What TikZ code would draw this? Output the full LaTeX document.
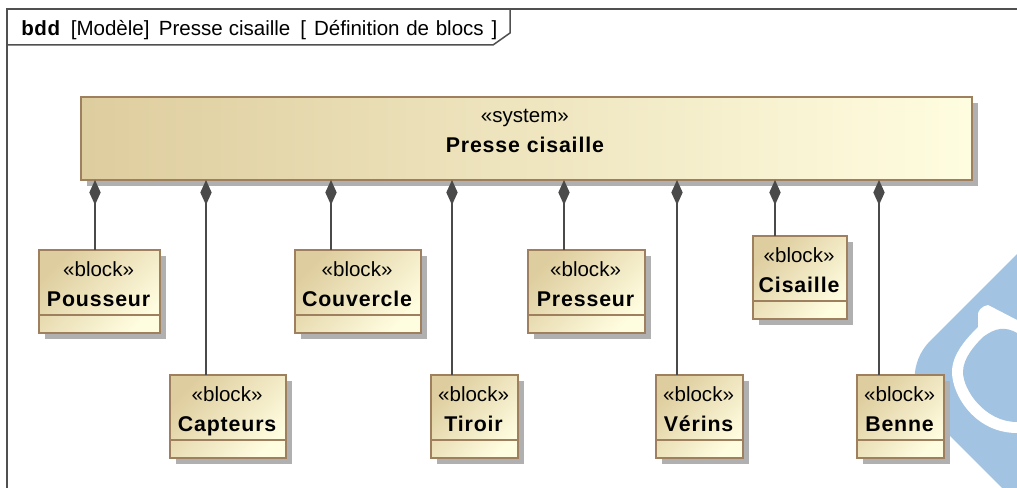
\documentclass[tikz,border=0pt]{standalone}
\usepackage{fontspec}
\setmainfont{Liberation Sans}
\newfontfamily\spacedbold[LetterSpace=4]{Liberation Sans Bold}
\newfontfamily\titlebold[LetterSpace=3]{Liberation Sans Bold}
\usetikzlibrary{shadows,arrows.meta}
\definecolor{edgebrown}{HTML}{9E7F5E}
\definecolor{shadowgrey}{HTML}{B0B0B0}
\definecolor{connector}{HTML}{4A4A4A}
\definecolor{gradA}{HTML}{DECD9E}
\definecolor{gradB}{HTML}{FFFDE0}
\definecolor{markblue}{HTML}{A2C4E2}
\definecolor{framegrey}{HTML}{505050}
\tikzset{
  x=0.75pt,y=-0.75pt,
  boxbase/.style={draw=edgebrown,line width=1.5*0.75pt,inner sep=0pt,outer sep=0pt,
    drop shadow={shadow xshift=4.5pt,shadow yshift=-4.5pt,fill=shadowgrey,opacity=1}},
  blockbox/.style={boxbase,top color=gradA,bottom color=gradB,shading angle=45},
  sysbox/.style={boxbase,left color=gradA,right color=gradB},
  blocktext/.style={anchor=north,align=center,inner sep=0pt,font=\fontsize{15.4pt}{22.5pt}\selectfont},
  comp/.style={draw=connector,line width=1.6*0.75pt,{Diamond[length=18.75pt,width=8.5pt,fill=connector]}-},
  compartline/.style={draw=edgebrown,line width=1.5*0.75pt},
  framepath/.style={draw=framegrey,line width=1.5*0.75pt},
  titletext/.style={anchor=base west,inner sep=0pt,font=\fontsize{15.4pt}{18pt}\selectfont},
}
\newcommand{\boldname}[1]{{\fontsize{16pt}{22.5pt}\selectfont\spacedbold #1}}
\newcommand{\blockat}[6]{% name x1 y1 x2 y2 label
  \path let \n1={(#4-#2)*0.75},\n2={(#5-#3)*0.75} in
    node[blockbox,anchor=north west,minimum width=\n1 pt,minimum height=\n2 pt] (#1) at (#2,#3) {};
  \draw[compartline] ([yshift=13.5pt]#1.south west) -- ([yshift=13.5pt]#1.south east);
  \node[blocktext] (#1text) at ([xshift=-0.7pt,yshift=-8.5pt]#1.north) {«block»\\\boldname{#6}};
}
\usetikzlibrary{calc}
\begin{document}
\begin{tikzpicture}
\useasboundingbox (0,0) rectangle (1017,488);
\begin{scope}
\clip (0,0) rectangle (1017,488);
% watermark
\fill[markblue,rounded corners=40pt] (1072,199) -- (892.5,378.5) -- (1130,616) -- (1300,400) -- cycle;
\fill[white] (988,305) .. controls (982,306) and (977,311) .. (978,316)
  -- (978,327) .. controls (965,340) and (952,355) .. (952,372)
  .. controls (952,395) and (975,433) .. (1017,433) -- (1017,320) -- cycle;
\fill[markblue] (1017,333) .. controls (1005,326) and (995,328) .. (983,337)
  .. controls (975,345) and (963,358) .. (963,372)
  .. controls (963,390) and (985,422) .. (1017,422) -- cycle;
\end{scope}
% frame
\draw[framepath] (7,488) -- (7,9) -- (1017,9);
\draw[framepath] (7,45) -- (493,45) -- (510,33) -- (510,9);
\node[titletext] (title) at (21,36) {{\titlebold bdd}\hspace{8pt}[Modèle]\hspace{7pt}Presse\hspace{4.5pt}cisaille\hspace{7.5pt}[\hspace{6pt}Définition\hspace{5pt}de\hspace{5pt}blocs\hspace{6pt}]};
% system
\node[sysbox,anchor=north west,minimum width=668.25pt,minimum height=62.25pt] (sys) at (81,97) {};
\node[blocktext] (systext) at ([xshift=-1.2pt,yshift=-9pt]sys.north) {«system»\\\boldname{Presse cisaille}};
% blocks
\blockat{pou}{39}{250}{160}{333}{Pousseur}
\blockat{cap}{170}{375}{286}{458}{Capteurs}
\blockat{cou}{295}{250}{421}{333}{Couvercle}
\blockat{tir}{431}{375}{518}{458}{Tiroir}
\blockat{pre}{528}{250}{645}{333}{Presseur}
\blockat{ver}{656}{375}{743}{458}{Vérins}
\blockat{cis}{753}{236}{847}{319}{Cisaille}
\blockat{ben}{857}{375}{944}{458}{Benne}
% connectors
\foreach \n/\xx in {pou/95,cap/206,cou/331,tir/452,pre/564,ver/677,cis/775,ben/879}{
  \coordinate (c\n) at (\xx,0);
  \draw[comp] (sys.south -| c\n) -- (\n.north -| c\n);
}
\end{tikzpicture}
\end{document}
